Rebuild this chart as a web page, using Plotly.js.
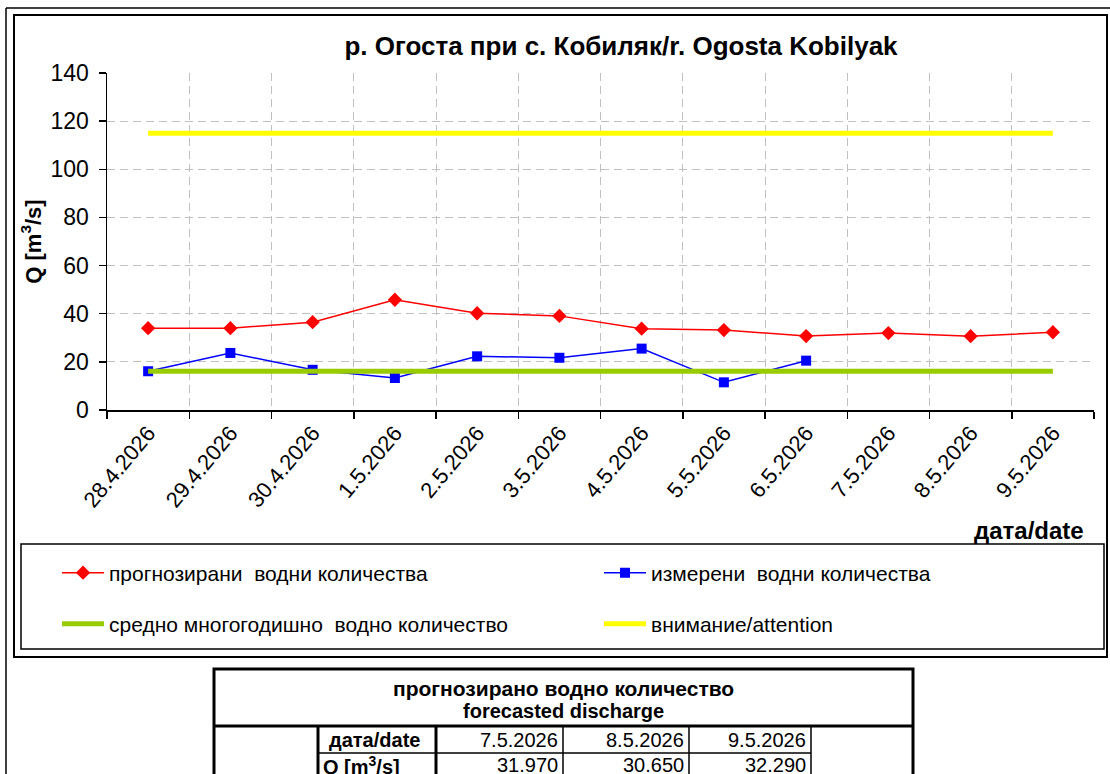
<!DOCTYPE html>
<html>
<head>
<meta charset="utf-8">
<script src="https://cdn.plot.ly/plotly-3.0.1.min.js"></script>
<style>
html,body{margin:0;padding:0;background:#fff;}
#chart{width:1110px;height:774px;}
</style>
</head>
<body>
<div id="chart"></div>
<script>
// ---- data ----
var dates = ['28.4.2026','29.4.2026','30.4.2026','1.5.2026','2.5.2026','3.5.2026','4.5.2026','5.5.2026','6.5.2026','7.5.2026','8.5.2026','9.5.2026'];
var forecast = [34.0, 34.0, 36.5, 45.8, 40.2, 39.1, 33.8, 33.2, 30.7, 31.97, 30.65, 32.29];
var measured = [16.1, 23.7, 16.7, 13.3, 22.3, 21.7, 25.5, 11.5, 20.5, null, null, null];
var meanLevel = [16.1, 16.1, 16.1, 16.1, 16.1, 16.1, 16.1, 16.1, 16.1, 16.1, 16.1, 16.1];
var attentionLevel = [115, 115, 115, 115, 115, 115, 115, 115, 115, 115, 115, 115];
var yTicks = [0, 20, 40, 60, 80, 100, 120, 140];
var seriesNames = ['прогнозирани  водни количества', 'измерени  водни количества', 'средно многогодишно  водно количество', 'внимание/attention'];
var chartTitle = 'р. Огоста при с. Кобиляк/r. Ogosta Kobilyak';
var yTitle = 'Q [m<sup>3</sup>/s]';
var xTitle = 'дата/date';
var tableTitle1 = 'прогнозирано водно количество';
var tableTitle2 = 'forecasted discharge';
var tableDates = dates.slice(9);
var tableValues = forecast.slice(9).map(function(v){ return v.toFixed(3); });

// ---- geometry helpers (pixel -> paper) ----
var W = 1110, H = 774;
var L = 107, R = 16, T = 73, B = 364;
var PW = W - L - R, PH = H - T - B;
function PX(x){ return (x - L) / PW; }
function PY(y){ return (H - B - y) / PH; }

var FONT = 'Liberation Sans, Arial, sans-serif';

var traces = [
  {x: dates, y: forecast, name: seriesNames[0], type: 'scatter', mode: 'lines+markers',
   line: {color: '#ff0000', width: 1.5}, marker: {symbol: 'diamond', size: 11, color: '#ff0000'},
   legend: 'legend'},
  {x: dates, y: measured, name: seriesNames[1], type: 'scatter', mode: 'lines+markers',
   line: {color: '#0000ff', width: 1.5}, marker: {symbol: 'square', size: 10, color: '#0000ff'},
   legend: 'legend2'},
  {x: dates, y: meanLevel, name: seriesNames[2], type: 'scatter', mode: 'lines',
   line: {color: '#99cc00', width: 5}, legend: 'legend3'},
  {x: dates, y: attentionLevel, name: seriesNames[3], type: 'scatter', mode: 'lines',
   line: {color: '#ffff00', width: 5}, legend: 'legend4'}
];

var shapes = [];
function line(x0,y0,x1,y1,w,c){
  shapes.push({type:'line', xref:'paper', yref:'paper', x0:PX(x0), y0:PY(y0), x1:PX(x1), y1:PY(y1),
    line:{color:c||'#000', width:w}});
}
function rect(x0,y0,x1,y1,w,c){
  shapes.push({type:'rect', xref:'paper', yref:'paper', x0:PX(x0), y0:PY(y0), x1:PX(x1), y1:PY(y1),
    line:{color:c||'#000', width:w}, fillcolor:'rgba(0,0,0,0)'});
}
// outer frame lines
line(6, 8, 6, 780, 1.5);
line(6, 8, 1120, 8, 1.5);
// chart area frame
rect(14, 15, 1107, 657, 2);
// legend box
rect(21, 544, 1104, 649, 1.5);
// table
rect(214, 669, 913, 790, 3);
line(214, 726, 913, 726, 3);
line(318, 726, 318, 790, 3);
line(436, 726, 436, 790, 3);
line(563, 726, 563, 790, 1.5);
line(689, 726, 689, 790, 1.5);
line(811, 726, 811, 790, 1.5);
line(318, 753, 811, 753, 1.5);

var TF = 20;
var annotations = [
  {text: '<b>' + xTitle + '</b>', xref:'paper', yref:'paper', x: PX(1086), y: PY(530),
   xanchor:'right', yanchor:'middle', showarrow:false, font:{family:FONT, size:24, color:'#000'}},
  {text: '<b>' + tableTitle1 + '</b>', xref:'paper', yref:'paper', x: PX(563), y: PY(688),
   xanchor:'center', yanchor:'middle', showarrow:false, font:{family:FONT, size:21, color:'#000'}},
  {text: '<b>' + tableTitle2 + '</b>', xref:'paper', yref:'paper', x: PX(563), y: PY(711),
   xanchor:'center', yanchor:'middle', showarrow:false, font:{family:FONT, size:TF, color:'#000'}},
  {text: '<b>' + xTitle + '</b>', xref:'paper', yref:'paper', x: PX(327), y: PY(740),
   xanchor:'left', yanchor:'middle', showarrow:false, font:{family:FONT, size:TF, color:'#000'}},
  {text: '<b>Q [m<sup>3</sup>/s]</b>', xref:'paper', yref:'paper', x: PX(321), y: PY(765),
   xanchor:'left', yanchor:'middle', showarrow:false, font:{family:FONT, size:TF, color:'#000'}}
];
var cellRight = [560, 686, 808];
for (var i = 0; i < tableDates.length; i++) {
  annotations.push({text: tableDates[i], xref:'paper', yref:'paper', x: PX(cellRight[i]), y: PY(740),
    xanchor:'right', yanchor:'middle', showarrow:false, font:{family:FONT, size:TF, color:'#000'}});
  annotations.push({text: tableValues[i], xref:'paper', yref:'paper', x: PX(cellRight[i]), y: PY(765),
    xanchor:'right', yanchor:'middle', showarrow:false, font:{family:FONT, size:TF, color:'#000'}});
}

function mkLegend(xpx, ypx){
  return {orientation:'h', xanchor:'left', yanchor:'middle', xref:'paper', yref:'paper',
    x: PX(xpx), y: PY(ypx), itemwidth: 42, bgcolor:'rgba(0,0,0,0)', borderwidth:0,
    font:{family:FONT, size:21, color:'#000'}};
}

var layout = {
  width: W, height: H,
  margin: {l: L, r: R, t: T, b: B, pad: 0},
  paper_bgcolor: '#ffffff', plot_bgcolor: '#ffffff',
  showlegend: true,
  title: {text: '<b>' + chartTitle + '</b>', x: PX(621), xref:'paper', xanchor:'center',
    y: 1 - 46 / H, yref:'container', yanchor:'middle', font:{family:FONT, size:26, color:'#000'}},
  xaxis: {type:'category', range:[-0.5, 11.5], tickson:'boundaries', ticks:'outside', ticklen:7,
    tickcolor:'#000', tickwidth:1.5, showline:true, linecolor:'#000', linewidth:1.5,
    showgrid:true, gridcolor:'#c0c0c0', griddash:'8px,5px', gridwidth:1,
    tickangle:-50, tickfont:{family:FONT, size:22, color:'#000'}, zeroline:false, fixedrange:true},
  yaxis: {range:[0, 140], tickvals: yTicks, ticktext: yTicks.map(String), ticks:'outside', ticklen:7,
    tickcolor:'#000', tickwidth:1.5, showline:true, linecolor:'#000', linewidth:1.5,
    showgrid:true, gridcolor:'#c0c0c0', griddash:'8px,5px', gridwidth:1, zeroline:false,
    tickfont:{family:FONT, size:23, color:'#000'}, ticklabelstandoff: 5,
    automargin: true,
    title:{text:'<b>' + yTitle + '</b>', font:{family:FONT, size:22, color:'#000'}, standoff: 3},
    fixedrange:true},
  legend: mkLegend(57, 573),
  legend2: mkLegend(599, 573),
  legend3: mkLegend(57, 624),
  legend4: mkLegend(599, 624),
  shapes: shapes,
  annotations: annotations
};

Plotly.newPlot('chart', traces, layout, {displayModeBar:false, staticPlot:true});
</script>
</body>
</html>
